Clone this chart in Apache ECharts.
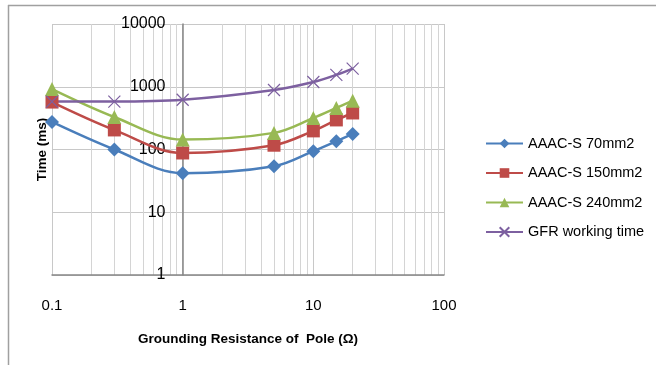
<!DOCTYPE html>
<html>
<head>
<meta charset="utf-8">
<script src="https://cdn.jsdelivr.net/npm/echarts@6/dist/echarts.min.js"></script>
<style>
  html, body { margin: 0; padding: 0; background: #fff; }
  #chart { width: 656px; height: 365px; }
</style>
</head>
<body>
<div id="chart"></div>
<script>
// grounding resistance of pole (ohm)
const resistance = [0.1, 0.3, 1, 5, 10, 15, 20];
// time (ms)
const aaac70 = [275, 100, 42, 54, 94, 135, 177];
const aaac150 = [570, 205, 88, 117, 198, 296, 382];
const aaac240 = [920, 330, 144, 184, 318, 459, 600];
const gfrTime = [580, 580, 620, 887, 1190, 1550, 1950];

const seriesNames = ['AAAC-S 70mm2', 'AAAC-S 150mm2', 'AAAC-S 240mm2', 'GFR working time'];
const xTicks = [0.1, 1, 10, 100];
const yTicks = [1, 10, 100, 1000, 10000];

const font = 'Liberation Sans, Arial, sans-serif';
const pairs = (arr) => resistance.map((x, i) => [x, arr[i]]);

const chart = echarts.init(document.getElementById('chart'), null, { renderer: 'canvas' });

function lineSeries(name, data, color, symbol, size, extra) {
  return Object.assign({
    name: name,
    type: 'line',
    data: pairs(data),
    smooth: 0.35,
    symbol: symbol,
    symbolSize: size,
    showAllSymbol: true,
    lineStyle: { color: color, width: 2.5 },
    itemStyle: { color: color },
    emphasis: { disabled: true },
  }, extra || {});
}

const option = {
  animation: false,
  backgroundColor: '#fff',
  textStyle: { fontFamily: font },
  graphic: [
    { type: 'line', shape: { x1: 8, y1: 5.5, x2: 656, y2: 5.5 }, style: { stroke: '#a0a0a0', lineWidth: 1.5 } },
    { type: 'line', shape: { x1: 8.5, y1: 5, x2: 8.5, y2: 365 }, style: { stroke: '#a0a0a0', lineWidth: 1.5 } },
  ],
  grid: { left: 52, top: 24, right: 212, bottom: 90, containLabel: false },
  legend: {
    orient: 'vertical',
    left: 485,
    top: 136,
    padding: 0,
    itemWidth: 37,
    itemHeight: 12,
    itemGap: 14.5,
    data: seriesNames,
    textStyle: { fontSize: 14.5, color: '#000', fontFamily: font },
  },
  xAxis: {
    type: 'log',
    logBase: 10,
    min: 0.1,
    max: 100,
    name: 'Grounding Resistance of  Pole (Ω)',
    nameLocation: 'middle',
    nameGap: 57,
    nameTextStyle: { fontSize: 13.5, fontWeight: 'bold', color: '#000', fontFamily: font },
    axisLine: { show: true, lineStyle: { color: '#878787', width: 1.5 } },
    axisTick: { show: false },
    axisLabel: {
      margin: 23,
      fontSize: 15,
      color: '#000',
      formatter: (v) => (xTicks.indexOf(+v) >= 0 ? String(+v) : ''),
    },
    splitLine: { show: true, lineStyle: { color: '#c8c8c8', width: 1 } },
    minorTick: { show: false, splitNumber: 9 },
    minorSplitLine: { show: true, lineStyle: { color: '#d4d4d4', width: 1 } },
  },
  yAxis: {
    type: 'log',
    logBase: 10,
    min: 1,
    max: 10000,
    offset: -130.5,
    name: 'Time (ms)',
    nameLocation: 'middle',
    nameGap: 133,
    nameRotate: 90,
    nameTextStyle: { fontSize: 13.5, fontWeight: 'bold', color: '#000', fontFamily: font },
    axisLine: { show: true, lineStyle: { color: '#878787', width: 1.5 } },
    axisTick: { show: false },
    axisLabel: {
      margin: 17,
      fontSize: 16,
      color: '#000',
      formatter: (v) => (yTicks.indexOf(+v) >= 0 ? String(+v) : ''),
    },
    splitLine: { show: true, lineStyle: { color: '#c8c8c8', width: 1 } },
  },
  series: [
    lineSeries(seriesNames[0], aaac70, '#4a7ebb', 'diamond', 14),
    lineSeries(seriesNames[1], aaac150, '#be4b48', 'rect', 13),
    lineSeries(seriesNames[2], aaac240, '#98b954', 'triangle', 14),
    lineSeries(seriesNames[3], gfrTime, '#7d60a0', 'path://M0,0L10,10M10,0L0,10', 12, {
      itemStyle: { color: 'none', borderColor: '#7d60a0', borderWidth: 1.2 },
    }),
  ],
};

chart.setOption(option);
</script>
</body>
</html>
